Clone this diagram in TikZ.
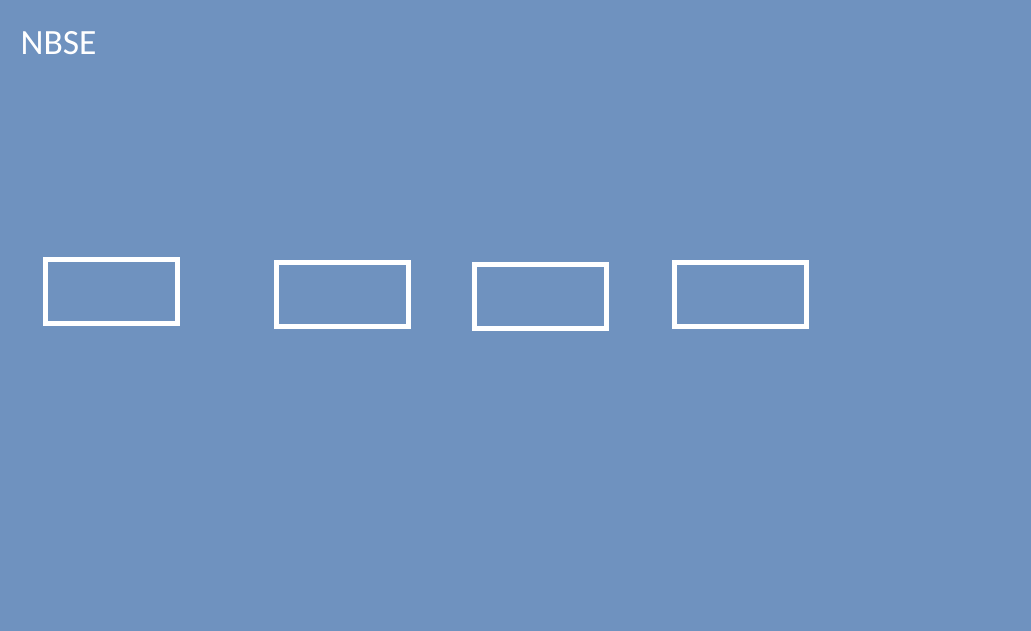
\documentclass[tikz,border=0pt]{standalone}
\usepackage{fontspec}
\setmainfont{Carlito}
\usepackage{tikz}
\usetikzlibrary{positioning}
\definecolor{slideblue}{RGB}{111,146,191}

\begin{document}
\begin{tikzpicture}[x=1pt, y=-1pt,
    slot/.style={draw=white, line width=5pt, rectangle, minimum width=132pt, minimum height=64pt, inner sep=0pt},
    heading/.style={text=white, font=\fontsize{35.5}{38}\selectfont, inner sep=0pt, anchor=base west}
]

% Slide background
\fill[slideblue] (0,0) rectangle (1031,631);
\useasboundingbox (0,0) rectangle (1031,631);

% Title
\node[heading] (title) at (20.5,54.5) {NBSE};

% Empty boxes
\node[slot] (box1) at (111.5,291.5) {};
\node[slot] (box2) at (342.5,294.5) {};
\node[slot] (box3) at (540.5,296.5) {};
\node[slot] (box4) at (740.5,294.5) {};

\end{tikzpicture}
\end{document}
